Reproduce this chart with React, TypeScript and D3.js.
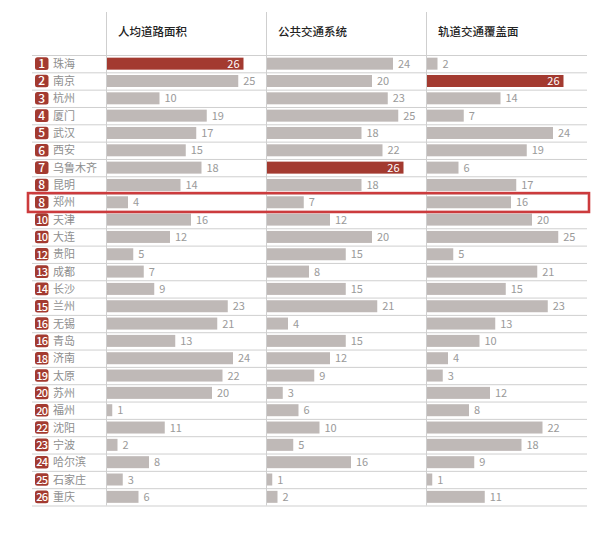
import React from 'react';
import * as d3 from 'd3';

// city ranking table: rank, name, then three indicator scores
const ranks = [1, 2, 3, 4, 5, 6, 7, 8, 8, 10, 10, 12, 13, 14, 15, 16, 16, 18, 19, 20, 20, 22, 23, 24, 25, 26];
const cities = ['珠海', '南京', '杭州', '厦门', '武汉', '西安', '乌鲁木齐', '昆明', '郑州', '天津', '大连', '贵阳', '成都', '长沙', '兰州', '无锡', '青岛', '济南', '太原', '苏州', '福州', '沈阳', '宁波', '哈尔滨', '石家庄', '重庆'];
const columns = ['人均道路面积', '公共交通系统', '轨道交通覆盖面'];
const roadArea = [26, 25, 10, 19, 17, 15, 18, 14, 4, 16, 12, 5, 7, 9, 23, 21, 13, 24, 22, 20, 1, 11, 2, 8, 3, 6];
const publicTransit = [24, 20, 23, 25, 18, 22, 26, 18, 7, 12, 20, 15, 8, 15, 21, 4, 15, 12, 9, 3, 6, 10, 5, 16, 1, 2];
const railCoverage = [2, 26, 14, 7, 24, 19, 6, 17, 16, 20, 25, 5, 21, 15, 23, 13, 10, 4, 3, 12, 8, 22, 18, 9, 1, 11];
const highlightCity = '郑州';

const series = [roadArea, publicTransit, railCoverage];

const W = 611;
const H = 533;
const FONT = '"Noto Sans CJK SC", "Noto Sans", sans-serif';
const RED = '#a33a30';
const GRAY_BAR = '#bfb9b7';
const LINE = '#cfcfcf';

const App = () => {
  const top = 55;
  const bottom = 505.5;
  const colStart = [106, 266, 426];

  const y = d3.scaleBand<number>()
    .domain(d3.range(cities.length))
    .range([top, bottom])
    .paddingInner(0)
    .paddingOuter(0);

  const x = d3.scaleLinear().domain([0, 26]).range([0, 136.5]);
  const maxVal = 26;
  const bh = 12;
  const rh = y.bandwidth();
  const hiIdx = cities.indexOf(highlightCity);

  return (
    <svg width={W} height={H} style={{ position: 'absolute', left: 0, top: 0, background: '#fff' }} fontFamily={FONT}>
      {/* vertical column dividers */}
      {colStart.map((cx, i) => (
        <line key={'v' + i} x1={cx + 0.5} x2={cx + 0.5} y1={12} y2={bottom} stroke={LINE} strokeWidth={1} />
      ))}

      {/* column headers */}
      {columns.map((c, i) => (
        <text key={'h' + i} x={colStart[i] + 12} y={36} fontSize={11.5} fill="#222" fontWeight={500}>{c}</text>
      ))}

      {/* row separators */}
      {d3.range(cities.length + 1).map(i => (
        <line key={'r' + i} x1={32} x2={587} y1={top + i * rh + 0.5} y2={top + i * rh + 0.5} stroke={LINE} strokeWidth={1} />
      ))}

      {cities.map((city, i) => {
        const y0 = y(i)!;
        const cy = y0 + rh / 2;
        return (
          <g key={city}>
            <rect x={35} y={cy - 6.3} width={13.5} height={12.6} rx={2.5} fill={RED} />
            <text x={41.75} y={cy + 4.3} fontSize={ranks[i] >= 10 ? 11 : 12} fill="#fff" textAnchor="middle" fontWeight={500} letterSpacing={ranks[i] >= 10 ? -0.8 : 0}>{ranks[i]}</text>
            <text x={53} y={cy + 4} fontSize={11} fill="#8e8e8e">{city}</text>
            {series.map((vals, j) => {
              const v = vals[i];
              const w = x(v);
              const isMax = v === maxVal;
              const bx = colStart[j] + 1;
              return (
                <g key={j}>
                  <rect x={bx} y={cy - bh / 2} width={w} height={bh} fill={isMax ? RED : GRAY_BAR} />
                  {isMax ? (
                    <text x={bx + w - 4} y={cy + 4} fontSize={11} fill="#fff" textAnchor="end">{v}</text>
                  ) : (
                    <text x={bx + w + 5} y={cy + 4} fontSize={11} fill="#9a9a9a">{v}</text>
                  )}
                </g>
              );
            })}
          </g>
        );
      })}

      {/* highlight box */}
      <rect x={28} y={y(hiIdx)! - 0.5} width={561} height={rh + 1.5} fill="none" stroke="#cc3b3d" strokeWidth={2.6} />
    </svg>
  );
};

export default App;
